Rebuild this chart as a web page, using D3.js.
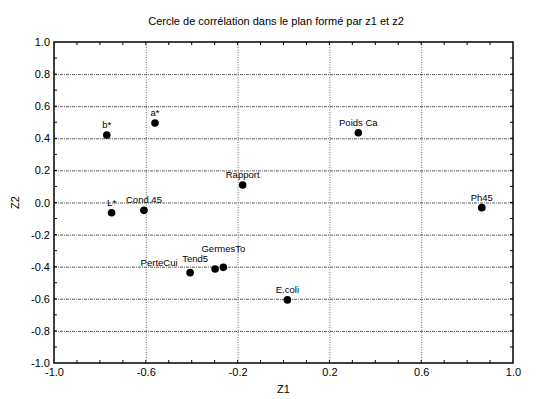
<!DOCTYPE html>
<html>
<head>
<meta charset="utf-8">
<script src="https://cdn.jsdelivr.net/npm/d3@7"></script>
<style>
  body { margin: 0; background: #fff; }
  text { font-family: "Liberation Sans", Arial, sans-serif; fill: #000; }
</style>
</head>
<body>
<script>
// Cercle de corrélation z1 / z2

const w = 539;
const h = 399;
const margin = { top: 42, right: 26, bottom: 36, left: 54 };
const width = w - margin.left - margin.right;
const height = h - margin.top - margin.bottom;

const names = ["b*", "a*", "Poids Ca", "Rapport", "L*", "Cond.45", "Ph45",
               "PerteCui", "Tend5", "GermesTo", "E.coli"];
const z1 = [-0.77, -0.56, 0.326, -0.178, -0.749, -0.608, 0.864, -0.407, -0.298, -0.262, 0.017];
const z2 = [0.42, 0.495, 0.435, 0.109, -0.064, -0.049, -0.032, -0.437, -0.414, -0.404, -0.607];
const xTicks = [-1.0, -0.6, -0.2, 0.2, 0.6, 1.0];
const yTicks = [-1.0, -0.8, -0.6, -0.4, -0.2, 0.0, 0.2, 0.4, 0.6, 0.8, 1.0];

// label nudges where the labels would collide
const nudge = {
  "PerteCui": { dx: -31, dy: 0, anchor: "middle" },
  "Tend5": { dx: -20, dy: 0, anchor: "middle" },
  "GermesTo": { dx: 0, dy: -8, anchor: "middle" }
};

const svg = d3.select("body")
  .append("svg")
  .attr("width", w)
  .attr("height", h);

const g = svg.append("g")
  .attr("transform", `translate(${margin.left},${margin.top})`);

const x = d3.scaleLinear().domain([-1, 1]).range([0, width]);
const y = d3.scaleLinear().domain([-1, 1]).range([height, 0]);

// grid
g.selectAll(".gx")
  .data(xTicks.slice(1, -1))
  .enter().append("line")
  .attr("x1", d => x(d) + 0.5).attr("x2", d => x(d) + 0.5)
  .attr("y1", 0).attr("y2", height)
  .attr("stroke", "#444")
  .attr("stroke-width", 0.8)
  .attr("stroke-dasharray", "1,1.5");

g.selectAll(".gy")
  .data(yTicks.slice(1, -1))
  .enter().append("line")
  .attr("x1", 0).attr("x2", width)
  .attr("y1", d => y(d) + 0.5).attr("y2", d => y(d) + 0.5)
  .attr("stroke", "#333")
  .attr("stroke-width", 0.8)
  .attr("stroke-dasharray", "3,1,1,1");

// minor ticks inside on all four sides
const minorX = d3.range(-9, 10).map(i => i / 10);
const minorY = d3.range(-9, 10).map(i => i / 10);

g.selectAll(".tb").data(minorX).enter().append("line")
  .attr("x1", d => x(d)).attr("x2", d => x(d))
  .attr("y1", height).attr("y2", height - 3)
  .attr("stroke", "#000");
g.selectAll(".tt").data(minorX).enter().append("line")
  .attr("x1", d => x(d)).attr("x2", d => x(d))
  .attr("y1", 0).attr("y2", 3)
  .attr("stroke", "#000");
g.selectAll(".tl").data(minorY).enter().append("line")
  .attr("x1", 0).attr("x2", 3)
  .attr("y1", d => y(d)).attr("y2", d => y(d))
  .attr("stroke", "#000");
g.selectAll(".tr").data(minorY).enter().append("line")
  .attr("x1", width).attr("x2", width - 3)
  .attr("y1", d => y(d)).attr("y2", d => y(d))
  .attr("stroke", "#000");

// frame
g.append("rect")
  .attr("x", 0).attr("y", 0)
  .attr("width", width).attr("height", height)
  .attr("fill", "none")
  .attr("stroke", "#000")
  .attr("stroke-width", 1.5);

// axes (labels only)
const xAxis = g.append("g")
  .attr("transform", `translate(0,${height})`)
  .call(d3.axisBottom(x).tickValues(xTicks).tickFormat(d3.format(".1f")).tickSize(0).tickPadding(5));
const yAxis = g.append("g")
  .call(d3.axisLeft(y).tickValues(yTicks).tickFormat(d3.format(".1f")).tickSize(0).tickPadding(4));
[xAxis, yAxis].forEach(a => {
  a.select(".domain").remove();
  a.selectAll("text")
    .attr("font-size", "11px")
    .attr("font-family", "Liberation Sans, Arial, sans-serif")
    .text(function () { return d3.select(this).text().replace("−", "-"); });
});

// points
g.selectAll("circle")
  .data(names)
  .enter().append("circle")
  .attr("cx", (d, i) => x(z1[i]))
  .attr("cy", (d, i) => y(z2[i]))
  .attr("r", 3.8)
  .attr("fill", "#000");

g.selectAll(".lbl")
  .data(names)
  .enter().append("text")
  .attr("class", "lbl")
  .attr("x", (d, i) => x(z1[i]) + (nudge[d] ? nudge[d].dx : 0))
  .attr("y", (d, i) => y(z2[i]) - 7 + (nudge[d] ? nudge[d].dy : 0))
  .attr("text-anchor", d => nudge[d] ? nudge[d].anchor : "middle")
  .attr("font-size", "9.5px")
  .text(d => d);

// titles
svg.append("text")
  .attr("x", 276)
  .attr("y", 25)
  .attr("text-anchor", "middle")
  .attr("font-size", "11px")
  .text("Cercle de corrélation dans le plan formé par z1 et z2");

svg.append("text")
  .attr("x", margin.left + width / 2)
  .attr("y", 393)
  .attr("text-anchor", "middle")
  .attr("font-size", "11px")
  .text("Z1");

svg.append("text")
  .attr("transform", `translate(19,${margin.top + height / 2}) rotate(-90)`)
  .attr("text-anchor", "middle")
  .attr("font-size", "11px")
  .text("Z2");
</script>
</body>
</html>
